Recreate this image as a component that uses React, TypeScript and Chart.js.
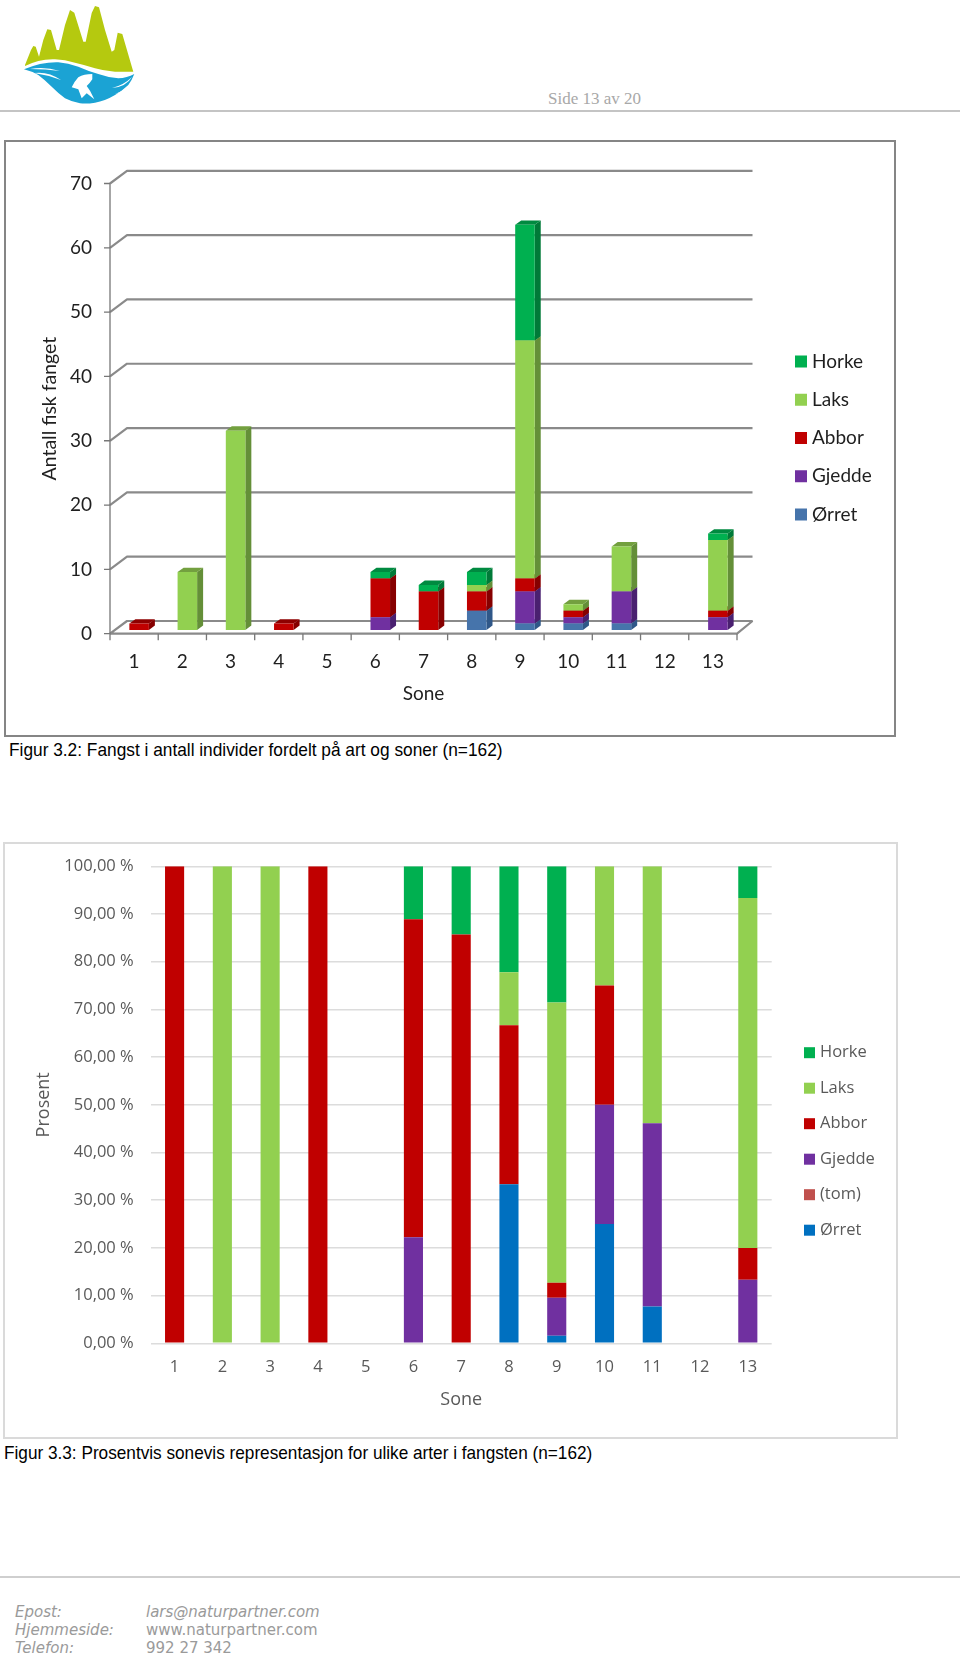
import React, { useEffect, useRef } from "react";
import { Chart, registerables } from "chart.js";

Chart.register(...registerables);

const zones = ["1", "2", "3", "4", "5", "6", "7", "8", "9", "10", "11", "12", "13"];

const countOrret = [0, 0, 0, 0, 0, 0, 0, 3, 1, 1, 1, 0, 0];
const countGjedde = [0, 0, 0, 0, 0, 2, 0, 0, 5, 1, 5, 0, 2];
const countAbbor = [1, 0, 0, 1, 0, 6, 6, 3, 2, 1, 0, 0, 1];
const countLaks = [0, 9, 31, 0, 0, 0, 0, 1, 37, 1, 7, 0, 11];
const countHorke = [0, 0, 0, 0, 0, 1, 1, 2, 18, 0, 0, 0, 1];

const pctOrret = [0, 0, 0, 0, 0, 0, 0, 33.33, 1.59, 25, 7.69, 0, 0];
const pctTom = [0, 0, 0, 0, 0, 0, 0, 0, 0, 0, 0, 0, 0];
const pctGjedde = [0, 0, 0, 0, 0, 22.22, 0, 0, 7.94, 25, 38.46, 0, 13.33];
const pctAbbor = [100, 0, 0, 100, 0, 66.67, 85.71, 33.33, 3.17, 25, 0, 0, 6.67];
const pctLaks = [0, 100, 100, 0, 0, 0, 0, 11.11, 58.73, 25, 53.85, 0, 73.33];
const pctHorke = [0, 0, 0, 0, 0, 11.11, 14.29, 22.22, 28.57, 0, 0, 0, 6.67];

const GREEN = "#00b050";
const LIME = "#92d050";
const RED = "#c00000";
const PURPLE = "#7030a0";

const shade: Record<string, [string, string]> = {
  "#4674ab": ["#2f5788", "#3a6598"],
  [PURPLE]: ["#4a2070", "#5a2788"],
  [RED]: ["#860000", "#8e0000"],
  [LIME]: ["#648f38", "#73a03f"],
  [GREEN]: ["#007a38", "#008a40"],
};

const legendPlugin = (x: number, textX: number, y0: number, step: number, box: number, font: string, color: string) => ({
  id: "sideLegend",
  afterDraw(chart: any) {
    const { ctx } = chart;
    const items = [...chart.data.datasets].reverse();
    ctx.save();
    ctx.font = font;
    ctx.textBaseline = "middle";
    items.forEach((d: any, i: number) => {
      const y = y0 + i * step;
      ctx.fillStyle = d.backgroundColor;
      ctx.fillRect(x, y - box / 2, box, box);
      ctx.fillStyle = color;
      ctx.fillText(d.label, textX, y);
    });
    ctx.restore();
  },
});

const DX = 17;
const DY = 12.7;
const BAR_DX = 6;
const BAR_DY = 4.4;
const BAR_SHIFT_X = 5;
const BAR_LIFT = 3.7;

const box3d = {
  id: "box3d",
  beforeDatasetsDraw(chart: any) {
    const { ctx, chartArea } = chart;
    const { left, right, bottom } = chartArea;
    const yS = chart.scales.y;
    ctx.save();
    ctx.strokeStyle = "#8a8a8a";
    ctx.lineWidth = 2.2;
    ctx.lineJoin = "bevel";
    yS.ticks.forEach((t: any) => {
      const py = yS.getPixelForValue(t.value);
      ctx.beginPath();
      if (t.value === 0) {
        ctx.moveTo(left, py);
        ctx.lineTo(right, py);
        ctx.lineTo(right + 15.5, py - DY);
        ctx.lineTo(left + DX, py - DY);
        ctx.lineTo(left, py);
      } else {
        ctx.moveTo(left, py);
        ctx.lineTo(left + DX, py - DY);
        ctx.lineTo(right + 15.5, py - DY);
      }
      ctx.stroke();
    });
    ctx.lineWidth = 1.3;
    ctx.strokeStyle = "#777777";
    ctx.beginPath();
    ctx.moveTo(left, chartArea.top);
    ctx.lineTo(left, bottom + 6.5);
    yS.ticks.forEach((t: any) => {
      const py = yS.getPixelForValue(t.value);
      ctx.moveTo(left - 6, py);
      ctx.lineTo(left, py);
    });
    const cat = chartArea.width / chart.data.labels.length;
    for (let i = 0; i <= chart.data.labels.length; i++) {
      ctx.moveTo(left + i * cat, bottom);
      ctx.lineTo(left + i * cat, bottom + 6.5);
    }
    ctx.stroke();
    ctx.translate(BAR_SHIFT_X, -BAR_LIFT);
    chart.data.datasets.forEach((d: any, di: number) => {
      const [side, top] = shade[d.backgroundColor];
      chart.getDatasetMeta(di).data.forEach((bar: any) => {
        const p = bar.getProps(["x", "y", "base", "width"], true);
        if (Math.abs(p.base - p.y) < 0.01) return;
        const l = p.x - p.width / 2;
        const r = p.x + p.width / 2;
        ctx.fillStyle = side;
        ctx.beginPath();
        ctx.moveTo(r, p.y);
        ctx.lineTo(r + BAR_DX, p.y - BAR_DY);
        ctx.lineTo(r + BAR_DX, p.base - BAR_DY);
        ctx.lineTo(r, p.base);
        ctx.closePath();
        ctx.fill();
        ctx.fillStyle = top;
        ctx.beginPath();
        ctx.moveTo(l, p.y);
        ctx.lineTo(l + BAR_DX, p.y - BAR_DY);
        ctx.lineTo(r + BAR_DX, p.y - BAR_DY);
        ctx.lineTo(r, p.y);
        ctx.closePath();
        ctx.fill();
      });
    });
    ctx.restore();
    ctx.save();
    ctx.translate(BAR_SHIFT_X, -BAR_LIFT);
  },
  afterDatasetsDraw(chart: any) {
    chart.ctx.restore();
  },
};

const FONT1 = "Lato";
const FONT2 = "'Open Sans'";

function makeCountChart(canvas: HTMLCanvasElement) {
  return new Chart(canvas, {
    type: "bar",
    data: {
      labels: zones,
      datasets: [
        { label: "Ørret", data: countOrret, backgroundColor: "#4674ab" },
        { label: "Gjedde", data: countGjedde, backgroundColor: PURPLE },
        { label: "Abbor", data: countAbbor, backgroundColor: RED },
        { label: "Laks", data: countLaks, backgroundColor: LIME },
        { label: "Horke", data: countHorke, backgroundColor: GREEN },
      ],
    },
    options: {
      responsive: false,
      animation: false,
      layout: { autoPadding: false, padding: { left: 0, top: 42.5, right: 223, bottom: 0 } },
      datasets: { bar: { categoryPercentage: 1, barPercentage: 0.405 } },
      plugins: { legend: { display: false }, tooltip: { enabled: false }, title: { display: false } },
      scales: {
        x: {
          stacked: true,
          grid: { display: false, drawTicks: false },
          border: { display: false },
          afterFit: (s: any) => { s.height = 101.3; },
          ticks: { color: "#1f1f1f", font: { family: FONT1, size: 19 }, padding: 17, maxRotation: 0, autoSkip: false },
          title: { display: true, text: "Sone", color: "#1f1f1f", font: { family: FONT1, size: 19 }, padding: { top: 0, bottom: 30 } },
        },
        y: {
          stacked: true,
          min: 0,
          max: 70,
          grid: { display: false, drawTicks: false },
          border: { display: false },
          afterFit: (s: any) => { s.width = 110; },
          ticks: { stepSize: 10, color: "#1f1f1f", font: { family: FONT1, size: 19 }, padding: 18 },
          title: { display: true, text: "Antall fisk fanget", color: "#1f1f1f", font: { family: FONT1, size: 19.5 }, padding: { top: 38, bottom: 0 } },
        },
      },
    },
    plugins: [box3d, legendPlugin(795, 812, 220.5, 38.25, 12, `19px ${FONT1}`, "#1f1f1f")],
  } as any);
}

function makePctChart(canvas: HTMLCanvasElement) {
  return new Chart(canvas, {
    type: "bar",
    data: {
      labels: zones,
      datasets: [
        { label: "Ørret", data: pctOrret, backgroundColor: "#0070c0" },
        { label: "(tom)", data: pctTom, backgroundColor: "#c0504d" },
        { label: "Gjedde", data: pctGjedde, backgroundColor: PURPLE },
        { label: "Abbor", data: pctAbbor, backgroundColor: RED },
        { label: "Laks", data: pctLaks, backgroundColor: LIME },
        { label: "Horke", data: pctHorke, backgroundColor: GREEN },
      ],
    },
    options: {
      responsive: false,
      animation: false,
      layout: { autoPadding: false, padding: { left: 0, top: 23.3, right: 188.3, bottom: 0 } },
      datasets: { bar: { categoryPercentage: 1, barPercentage: 0.4 } },
      plugins: { legend: { display: false }, tooltip: { enabled: false }, title: { display: false } },
      scales: {
        x: {
          stacked: true,
          grid: { display: false, drawTicks: false },
          border: { display: false },
          afterFit: (s: any) => { s.height = 93.7; },
          ticks: { color: "#595959", font: { family: FONT2, size: 16.5 }, padding: 14, maxRotation: 0, autoSkip: false },
          title: { display: true, text: "Sone", color: "#595959", font: { family: FONT2, size: 18 }, padding: { top: 0, bottom: 26 } },
        },
        y: {
          stacked: true,
          min: 0,
          max: 100,
          grid: { color: "#dcdcdc", lineWidth: 1.5, drawTicks: true, tickLength: 4, tickColor: "rgba(0,0,0,0)" },
          border: { display: false },
          afterFit: (s: any) => { s.width = 150.7; },
          ticks: {
            stepSize: 10,
            color: "#595959",
            font: { family: FONT2, size: 16.5 },
            padding: 13,
            callback: (v: any) => `${Number(v).toFixed(2).replace(".", ",")} %`,
          },
          title: { display: true, text: "Prosent", color: "#595959", font: { family: FONT2, size: 18 }, padding: { top: 33, bottom: 0 } },
        },
      },
    },
    plugins: [legendPlugin(804, 820, 209.7, 35.5, 11, `16.5px ${FONT2}`, "#595959")],
  } as any);
}

const abs = (o: React.CSSProperties): React.CSSProperties => ({ position: "absolute", margin: 0, whiteSpace: "nowrap", ...o });

function Logo() {
  return (
    <svg width="140" height="110" style={{ position: "absolute", left: 0, top: 0 }}>
      <path
        d="M25 65 L31 50 L33.3 46 L35.7 46.7 L39 56.7 L43.3 40 L47.3 29.3 L51 30 L56.7 50 L59 50 L65 25 L70 10 L74.3 12.7 L83.3 41.7 L85.7 41.7 L91.7 13 L95 6 L99 7.3 L105 30 L111.7 51.7 L114.3 50 L117.7 32.7 L122.3 34 L133.3 71.7 Q124 72 115 71.7 Q104 71 95 68.3 Q85 65 75 62.7 Q65 59.5 55 59.3 Q46 59 38.3 61 Q31 63 25 66 Z"
        fill="#b5c90f"
      />
      <path
        d="M24 69.3 Q32 66 40 64 Q50 62 58.3 62.3 Q68 63 78.3 66.7 Q88 71 98.3 74 Q108 77.5 118.3 78.3 Q127 78 134.3 74 Q132 80 128.3 85 Q122 91 115 95 Q105 101 95 102.7 Q87 104 80 103.3 Q72 102 65 98.3 Q58 93 51.7 86.7 Q45 80 38.3 75 Q31 71 24 69.3 Z"
        fill="#1ba3d4"
      />
      <path
        d="M30 69 Q44 66 60 71 Q46 69 30 69 Z M34 73 Q48 71 61 80 Q48 75 34 73 Z M112 88 Q124 85 132 77 Q126 87 112 88 Z M115 94 Q124 91 130 84 Q125 92 115 94 Z"
        fill="#ffffff"
      />
      <path d="M92.3 74 Q84 74 78.3 77.3 Q74 82 71.7 87.3 L78.3 89.3 L81.7 98.3 L86.7 93.3 L94.3 99.3 L90 90.7 L86.7 86 Q90 83 92.3 79.3 Z" fill="#ffffff" />
    </svg>
  );
}

export default function App() {
  const c1 = useRef<HTMLCanvasElement>(null);
  const c2 = useRef<HTMLCanvasElement>(null);
  useEffect(() => {
    const a = makeCountChart(c1.current!);
    const b = makePctChart(c2.current!);
    return () => {
      a.destroy();
      b.destroy();
    };
  }, []);
  const sans = "'Liberation Sans', Arial, sans-serif";
  const foot = "'DejaVu Sans', sans-serif";
  return (
    <div style={{ position: "absolute", left: 0, top: 0, width: 960, height: 1654, overflow: "hidden", background: "#fff" }}>
      <Logo />
      <div style={abs({ left: 548, top: 89, fontFamily: "'Liberation Serif', serif", fontSize: 17, color: "#a8a8a8", lineHeight: "20px" })}>Side 13 av 20</div>
      <div style={abs({ left: 0, top: 110, width: 960, height: 2, background: "#c4c4c4" })} />

      <div style={abs({ left: 4, top: 140, width: 888, height: 593, border: "2px solid #858585", boxSizing: "content-box" })} />
      <canvas ref={c1} width={960} height={594} style={{ position: "absolute", left: 0, top: 141 }} />
      <div style={abs({ left: 9, top: 739, fontFamily: sans, fontSize: 19, lineHeight: "22px", color: "#000", transform: "scaleX(0.91)", transformOrigin: "left" })}>
        Figur 3.2: Fangst i antall individer fordelt på art og soner (n=162)
      </div>

      <div style={abs({ left: 3, top: 842, width: 891, height: 593, border: "2px solid #dadada", boxSizing: "content-box" })} />
      <canvas ref={c2} width={960} height={594} style={{ position: "absolute", left: 0, top: 843 }} />
      <div style={abs({ left: 4, top: 1442, fontFamily: sans, fontSize: 19, lineHeight: "22px", color: "#000", transform: "scaleX(0.905)", transformOrigin: "left" })}>
        Figur 3.3: Prosentvis sonevis representasjon for ulike arter i fangsten (n=162)
      </div>

      <div style={abs({ left: 0, top: 1576, width: 960, height: 2, background: "#cfcfcf" })} />
      {[
        ["Epost:", "lars@naturpartner.com", 1603, true],
        ["Hjemmeside:", "www.naturpartner.com", 1621, false],
        ["Telefon:", "992 27 342", 1639, false],
      ].map(([a, b, t, it]: any) => (
        <React.Fragment key={a}>
          <div style={abs({ left: 15, top: t, fontFamily: foot, fontSize: 15, fontStyle: "italic", color: "#9a9a9a", lineHeight: "18px" })}>{a}</div>
          <div style={abs({ left: 146, top: t, fontFamily: foot, fontSize: 15, fontStyle: it ? "italic" : "normal", color: "#9a9a9a", lineHeight: "18px" })}>{b}</div>
        </React.Fragment>
      ))}
    </div>
  );
}
